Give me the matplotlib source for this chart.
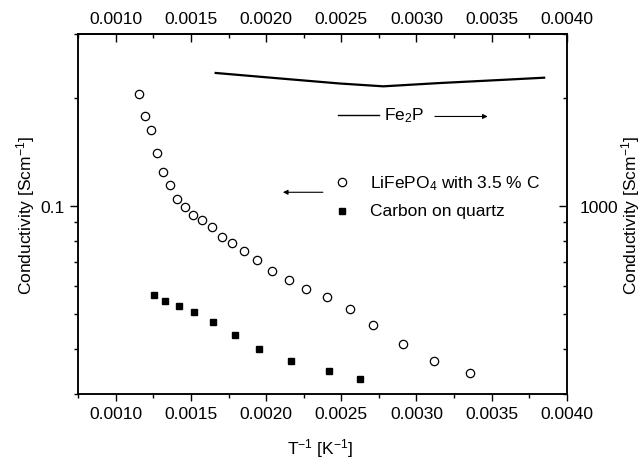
import numpy as np
import matplotlib
matplotlib.use('Agg')
import matplotlib.pyplot as plt
from matplotlib.ticker import NullFormatter, FixedLocator

plt.rcParams['font.family'] = ['Liberation Sans', 'DejaVu Sans']
plt.rcParams['mathtext.fontset'] = 'custom'
plt.rcParams['mathtext.rm'] = 'Liberation Sans'
plt.rcParams['mathtext.it'] = 'Liberation Sans:italic'
plt.rcParams['font.size'] = 12.5

# LiFePO4 with 3.5 % C (left axis)
lfp_x = [0.001156, 0.001194, 0.001234, 0.001272, 0.001314, 0.001358,
         0.001407, 0.001462, 0.001511, 0.001573, 0.001638, 0.001704,
         0.001771, 0.001855, 0.001942, 0.002039, 0.002150, 0.002267,
         0.002405, 0.002556, 0.002709, 0.002913, 0.003117, 0.003356]
lfp_y = [0.2047, 0.1778, 0.1622, 0.1405, 0.1240, 0.1141, 0.1047, 0.0996,
         0.0945, 0.0914, 0.0874, 0.0821, 0.0788, 0.0749, 0.0706, 0.0660,
         0.0622, 0.0589, 0.0557, 0.0518, 0.0467, 0.0412, 0.0370, 0.0343]

# Carbon on quartz (left axis)
carbon_x = [0.001256, 0.001329, 0.001420, 0.001520, 0.001648, 0.001791,
            0.001951, 0.002167, 0.002416, 0.002622]
carbon_y = [0.0566, 0.0543, 0.0528, 0.0506, 0.0475, 0.0438, 0.0401,
            0.0370, 0.0348, 0.0330]

# Fe2P (right axis)
fe2p_x = [0.001664, 0.002092, 0.002491, 0.002780, 0.003157, 0.003556,
          0.003850]
fe2p_y = [2342, 2261, 2189, 2150, 2196, 2239, 2272]

x_major = [0.0010, 0.0015, 0.0020, 0.0025, 0.0030, 0.0035, 0.0040]
x_minor = [0.00075, 0.00125, 0.00175, 0.00225, 0.00275, 0.00325, 0.00375]
x_labels = ['0.0010', '0.0015', '0.0020', '0.0025', '0.0030', '0.0035',
            '0.0040']

fig = plt.figure(figsize=(6.43, 4.60), dpi=100)
ax = fig.add_axes([0.1218, 0.1413, 0.7595, 0.782])

ax.plot(lfp_x, lfp_y, 'o', mfc='white', mec='black', ms=6, mew=0.9)
ax.plot(carbon_x, carbon_y, 's', color='black', ms=5)
ax.set_yscale('log')
ax.set_xlim(0.00075, 0.0040)
ax.set_ylim(0.03, 0.3)
ax.set_xticks(x_major)
ax.set_xticklabels(x_labels)
ax.xaxis.set_minor_locator(FixedLocator(x_minor))
ax.set_yticks([0.1])
ax.set_yticklabels(['0.1'])
ax.yaxis.set_minor_formatter(NullFormatter())
ax.tick_params(axis='x', which='major', direction='out', length=5, width=1)
ax.tick_params(axis='x', which='minor', direction='out', length=3, width=1)
ax.tick_params(axis='y', which='major', direction='out', length=6, width=1)
ax.tick_params(axis='y', which='minor', direction='out', length=3, width=1)
for s in ax.spines.values():
    s.set_linewidth(1.1)

ax.set_xlabel('T$^{-1}$ [K$^{-1}$]')
ax.xaxis.set_label_coords(0.495, -0.118)
ax.set_ylabel('Conductivity [Scm$^{-1}$]')
ax.yaxis.set_label_coords(-0.085, 0.5)

# top axis
top = ax.secondary_xaxis('top')
top.set_xticks(x_major)
top.set_xticklabels(x_labels)
top.xaxis.set_minor_locator(FixedLocator(x_minor))
top.tick_params(which='major', direction='in', length=6, width=1, pad=6)
top.tick_params(which='minor', direction='in', length=3, width=1)
top.spines['top'].set_linewidth(1.1)

# right axis
ax2 = ax.twinx()
ax2.plot(fe2p_x, fe2p_y, '-', color='black', lw=1.6)
ax2.set_yscale('log')
ax2.set_ylim(300, 3000)
ax2.set_yticks([1000])
ax2.set_yticklabels(['1000'])
ax2.yaxis.set_minor_formatter(NullFormatter())
ax2.tick_params(axis='y', which='major', direction='in', length=6, width=1,
                pad=9)
ax2.tick_params(axis='y', which='minor', direction='in', length=3, width=1)
ax2.set_ylabel('Conductivity [Scm$^{-1}$]')
ax2.yaxis.set_label_coords(1.107, 0.5)
for s in ax2.spines.values():
    s.set_linewidth(1.1)

# legend-like annotations
ax.plot([0.5393], [0.5886], 'o', mfc='white', mec='black', ms=6, mew=0.9,
        transform=ax.transAxes, clip_on=False)
ax.text(0.5973, 0.5886, 'LiFePO$_4$ with 3.5 % C', transform=ax.transAxes,
        va='center', ha='left')
ax.plot([0.5393], [0.5096], 's', color='black', ms=5,
        transform=ax.transAxes, clip_on=False)
ax.text(0.5973, 0.5096, 'Carbon on quartz', transform=ax.transAxes,
        va='center', ha='left')
ax.annotate('', xy=(0.4189, 0.5608), xytext=(0.5008, 0.5608),
            xycoords='axes fraction',
            arrowprops=dict(arrowstyle='-|>', lw=0.8, color='black',
                            mutation_scale=7, shrinkA=0, shrinkB=0))

ax.plot([0.532, 0.6151], [0.7756, 0.7756], '-', color='black', lw=1.0,
        transform=ax.transAxes)
ax.text(0.6259, 0.7756, 'Fe$_2$P', transform=ax.transAxes,
        va='center', ha='left')
ax.annotate('', xy=(0.8382, 0.7715), xytext=(0.7302, 0.7715),
            xycoords='axes fraction',
            arrowprops=dict(arrowstyle='-|>', lw=0.8, color='black',
                            mutation_scale=7, shrinkA=0, shrinkB=0))

fig.savefig('out.png', dpi=100)
